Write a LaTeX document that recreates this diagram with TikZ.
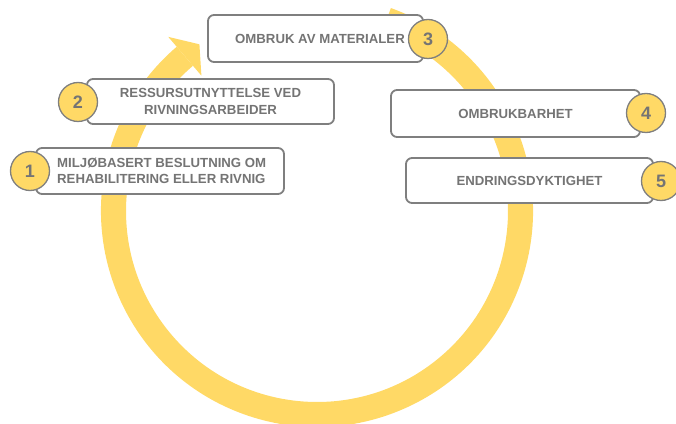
\documentclass[tikz,border=0pt]{standalone}
\usepackage{fontspec}
\setmainfont{Liberation Sans}
\definecolor{ringcol}{HTML}{FFD966}
\definecolor{edgecol}{HTML}{7F7F7F}
\definecolor{txtcol}{HTML}{747474}
\tikzset{
  stepbox/.style={draw=edgecol, line width=1.8pt, fill=white, rounded corners=6pt,
    inner sep=0pt, text=txtcol, font=\fontsize{13.2}{16.5}\selectfont\bfseries},
  numdot/.style={circle, draw=edgecol, line width=1.3pt, fill=ringcol, minimum size=39pt,
    inner sep=0pt, text=txtcol, font=\fontsize{18}{18}\selectfont\bfseries},
  lbl/.style={text=txtcol, font=\fontsize{13.2}{16.5}\selectfont\bfseries, inner sep=0pt}
}
\begin{document}
\begin{tikzpicture}[x=1pt,y=1pt]
\useasboundingbox (0,0) rectangle (676,423);
\begin{scope}
\clip (0,0) rectangle (676,423);
% ring with arrow
\begin{scope}[shift={(317,212)}]
  \fill[ringcol] (70:216) arc[start angle=70, end angle=-229.5, radius=216]
     -- (-229.5:191) arc[start angle=-229.5, end angle=70, radius=191] -- cycle;
  \fill[ringcol] (130.5:229) -- (125.2:204) -- (130.5:178) -- cycle;
\end{scope}
% boxes
\node[stepbox, minimum width=248pt, minimum height=46pt] (b1) at (160,252) {};
\node[lbl, align=left, anchor=west] (t1) at (57,252) {MILJØBASERT BESLUTNING OM\\REHABILITERING ELLER RIVNIG};
\node[stepbox, minimum width=247pt, minimum height=45pt, align=center] (b2) at (210.5,321.5) {RESSURSUTNYTTELSE VED\\RIVNINGSARBEIDER};
\node[stepbox, minimum width=215pt, minimum height=47pt] (b3) at (315.5,384.5) {};
\node[lbl] (t3) at (320,384.5) {OMBRUK AV MATERIALER};
\node[stepbox, minimum width=249pt, minimum height=47pt] (b4) at (515.5,309.5) {OMBRUKBARHET};
\node[stepbox, minimum width=247pt, minimum height=45pt] (b5) at (529.5,242.5) {ENDRINGSDYKTIGHET};
% number circles
\node[numdot] (n1) at (30,252) {1};
\node[numdot] (n2) at (78,321) {2};
\node[numdot] (n3) at (428,384) {3};
\node[numdot] (n4) at (646,310) {4};
\node[numdot] (n5) at (661,242) {5};
\end{scope}
\end{tikzpicture}
\end{document}
